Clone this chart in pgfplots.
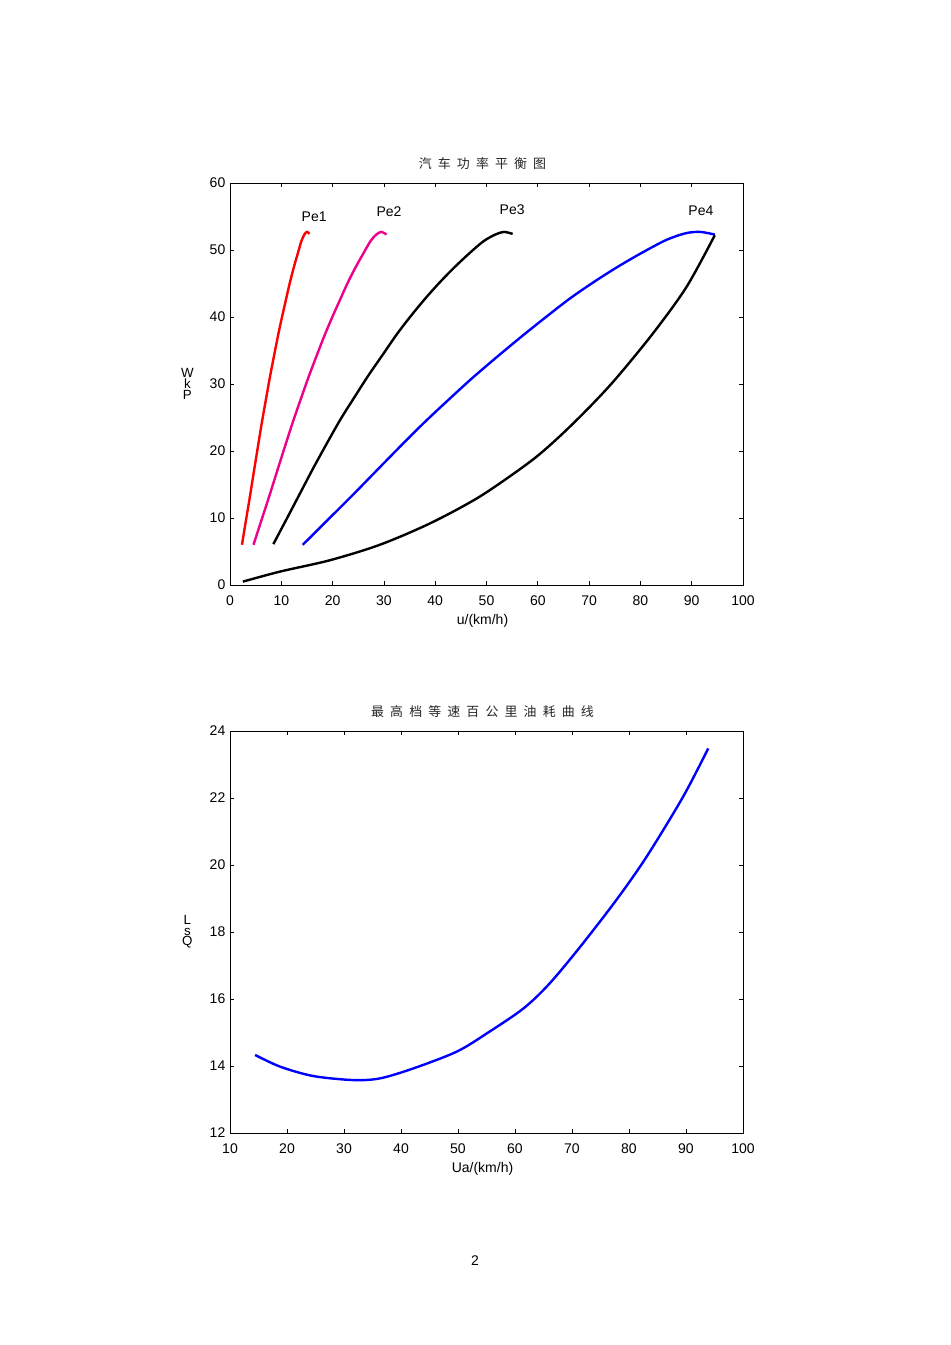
\documentclass[border=0pt]{standalone}
\usepackage{fontspec}
\setmainfont{Liberation Sans}
\newfontfamily\cjk{Noto Sans CJK SC}
\usepackage{pgfplots}
\pgfplotsset{compat=1.18}
\def\g{\hspace{4.6pt}}
\pgfplotsset{
  mystyle/.style={
    scale only axis, width=384.75pt, height=301.5pt,
    axis line style={line width=0.6pt},
    tick style={line width=0.5pt, black},
    major tick length=3pt, tick align=inside,
    /pgf/number format/assume math mode=true,
    tick label style={font=\fontsize{10.5}{12}\selectfont},
    xticklabel style={yshift=-4.5pt},
    every axis title/.style={at={(0.5,1)}, anchor=base, yshift=11pt, xshift=-3pt, font=\cjk\fontsize{9.7}{11}\selectfont, text=black!85},
    every axis x label/.style={at={(rel axis cs:0.5,0)}, anchor=center, yshift=-27pt, xshift=-3pt, font=\fontsize{10.5}{12}\selectfont},
    every axis y label/.style={at={(rel axis cs:0,0.5)}, anchor=center, xshift=-32pt, align=center, font=\fontsize{10}{8}\selectfont},
  }
}
\begin{document}
\begin{tikzpicture}
\path[use as bounding box] (0,0) rectangle (712.5pt,1008.75pt);
\begin{axis}[mystyle, at={(172.5pt,570pt)}, anchor=south west,
  xmin=0, xmax=100, ymin=0, ymax=60,
  xtick={0,10,...,100}, ytick={0,10,...,60},
  title={汽\g 车\g 功\g 率\g 平\g 衡\g 图},
  xlabel={u/(km/h)}, ylabel={W\\k\\P}]
\addplot[red, line width=1.8pt, smooth] coordinates {(2.33,6.0)(3.1,9.6)(3.88,13.2)(4.65,16.9)(5.43,20.6)(6.2,24.2)(6.98,27.6)(7.75,30.9)(8.53,34.0)(9.3,37.0)(10.08,39.8)(10.85,42.4)(11.63,45.0)(12.4,47.3)(13.18,49.4)(13.95,51.4)(14.57,52.4)(15.04,52.7)(15.5,52.4)};
\addplot[magenta, line width=1.8pt, smooth] coordinates {(4.58,6.0)(6.1,9.6)(7.63,13.2)(9.15,16.9)(10.68,20.6)(12.2,24.2)(13.73,27.6)(15.25,30.9)(16.78,34.0)(18.3,37.0)(19.83,39.8)(21.35,42.4)(22.88,45.0)(24.4,47.3)(25.93,49.4)(27.45,51.4)(28.67,52.4)(29.59,52.7)(30.5,52.3)};
\addplot[black, line width=1.8pt, smooth] coordinates {(8.45,6.1)(11.0,9.8)(13.6,13.6)(16.2,17.4)(19.0,21.3)(21.6,24.8)(24.4,28.2)(27.0,31.3)(29.8,34.4)(32.5,37.4)(35.2,40.1)(38.0,42.7)(40.8,45.1)(43.6,47.3)(46.5,49.4)(49.4,51.3)(51.7,52.3)(53.4,52.7)(55.1,52.4)};
\addplot[blue, line width=1.8pt, smooth] coordinates {(14.18,6.0)(18.9,9.6)(23.63,13.2)(28.35,16.9)(33.08,20.6)(37.8,24.2)(42.53,27.6)(47.25,30.9)(51.98,34.0)(56.7,37.0)(61.43,39.9)(66.15,42.7)(70.88,45.2)(75.6,47.5)(80.33,49.6)(85.05,51.5)(88.83,52.5)(91.67,52.7)(94.5,52.3)};
\addplot[black, line width=1.8pt, smooth] coordinates {(2.5,0.5)(9.75,2.0)(19.5,3.7)(29.2,6.0)(39,9.2)(48.7,13.2)(58.5,18.4)(64,22.0)(69.5,26.1)(75,30.6)(82.5,37.6)(89,44.5)(94.5,52.2)};
\node at (axis cs:16.4,54.9) {\fontsize{10.5}{12}\selectfont Pe1};
\node at (axis cs:31.0,55.7) {\fontsize{10.5}{12}\selectfont Pe2};
\node at (axis cs:55.0,56.0) {\fontsize{10.5}{12}\selectfont Pe3};
\node at (axis cs:91.8,55.8) {\fontsize{10.5}{12}\selectfont Pe4};
\end{axis}
\begin{axis}[mystyle, at={(172.5pt,159pt)}, anchor=south west,
  xmin=10, xmax=100, ymin=12, ymax=24,
  xtick={10,20,...,100}, ytick={12,14,...,24},
  title={最\g 高\g 档\g 等\g 速\g 百\g 公\g 里\g 油\g 耗\g 曲\g 线},
  xlabel={Ua/(km/h)}, ylabel={L\\s\\Q}]
\addplot[blue, line width=1.8pt, smooth] coordinates {(14.4,14.33)(18.8,13.98)(24.6,13.70)(31.6,13.58)(36.3,13.63)(42.2,13.93)(49.8,14.43)(55.3,15.0)(61.5,15.72)(66,16.45)(71.4,17.55)(77.8,18.96)(83.1,20.25)(89.5,22.04)(93.9,23.48)};
\end{axis}
\node at (356.25pt,63pt) {\fontsize{10.5}{12}\selectfont 2};
\end{tikzpicture}
\end{document}
